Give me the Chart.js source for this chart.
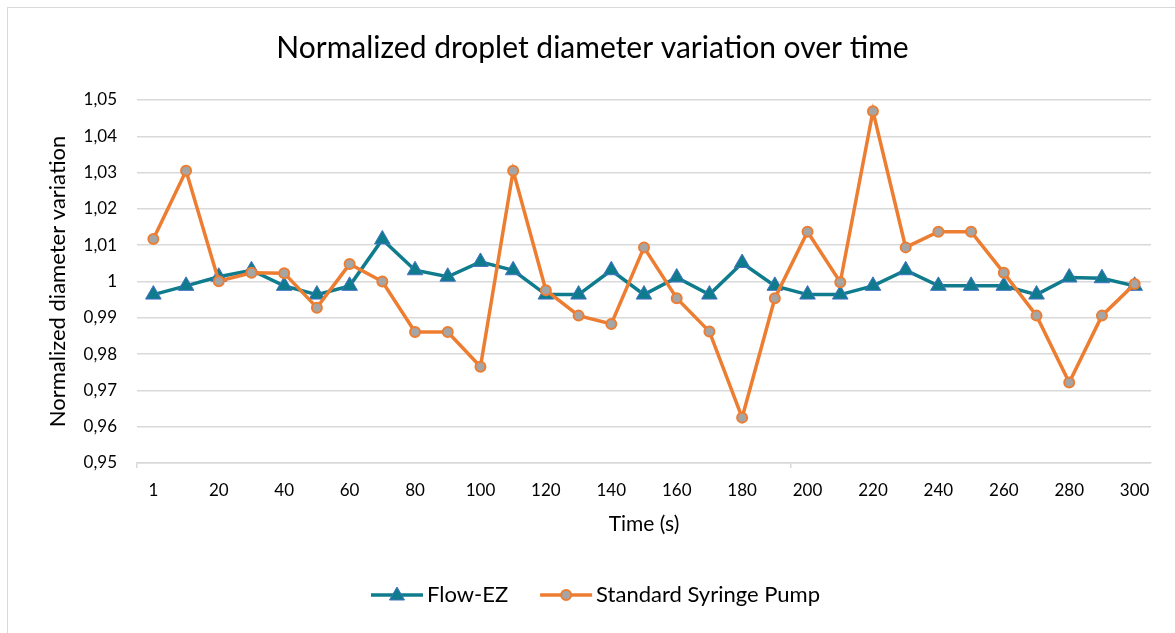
<!DOCTYPE html>
<html>
<head>
<meta charset="utf-8">
<script src="https://cdn.jsdelivr.net/npm/chart.js@4"></script>
<style>
  html, body { margin: 0; padding: 0; background: #fff; }
  #wrap { width: 1175px; height: 633px; }
</style>
</head>
<body>
<div id="wrap"><canvas id="dropChart" width="1175" height="633"></canvas></div>
<script>
// time points (s)
const times = [1, 10, 20, 30, 40, 50, 60, 70, 80, 90, 100, 110, 120, 130, 140, 150,
    160, 170, 180, 190, 200, 210, 220, 230, 240, 250, 260, 270, 280, 290, 300];

const flowEz = [0.9964, 0.9988, 1.0013, 1.0031, 0.9988, 0.9964, 0.9988, 1.0116, 1.0031, 1.0013,
    1.0054, 1.0031, 0.9964, 0.9964, 1.0031, 0.9964, 1.0011, 0.9964, 1.0051, 0.9988,
    0.9964, 0.9964, 0.9988, 1.0031, 0.9988, 0.9988, 0.9988, 0.9964, 1.0011, 1.0009, 0.9988];

const syringePump = [1.0117, 1.0305, 1.0001, 1.0024, 1.0023, 0.9928, 1.0048, 1.0000, 0.9861, 0.9861,
    0.9765, 1.0305, 0.9976, 0.9906, 0.9883, 1.0094, 0.9954, 0.9862, 0.9625, 0.9954,
    1.0137, 0.9998, 1.0469, 1.0094, 1.0137, 1.0137, 1.0024, 0.9906, 0.9722, 0.9906, 0.9993];

const seriesNames = ['Flow-EZ', 'Standard Syringe Pump'];

const teal = '#0E7C8C';
const orange = '#ED7D31';
const FONT = 'Lato';

// frame + legend drawn by hand (Excel style: line with marker in the middle)
const excelLook = {
    id: 'excelLook',
    beforeDraw(chart) {
        const ctx = chart.ctx;
        ctx.save();
        ctx.fillStyle = '#fff';
        ctx.fillRect(0, 0, chart.width, chart.height);
        ctx.strokeStyle = '#d9d9d9';
        ctx.lineWidth = 1;
        ctx.strokeRect(7.5, 7.5, chart.width + 20, chart.height + 20);
        ctx.restore();
    },
    afterDraw(chart) {
        const ctx = chart.ctx;
        ctx.save();
        ctx.font = '22px ' + FONT;
        ctx.textBaseline = 'middle';
        const segW = 52, gapText = 4, gapItem = 32;
        const w0 = ctx.measureText(seriesNames[0]).width;
        const w1 = ctx.measureText(seriesNames[1]).width;
        const total = segW + gapText + w0 + gapItem + segW + gapText + w1;
        let x = chart.width / 2 + 8 - total / 2;
        const y = 595;

        // Flow-EZ
        ctx.strokeStyle = teal;
        ctx.lineWidth = 3.5;
        ctx.beginPath(); ctx.moveTo(x, y); ctx.lineTo(x + segW, y); ctx.stroke();
        const cx = x + segW / 2;
        ctx.fillStyle = teal;
        ctx.strokeStyle = '#4472C4';
        ctx.lineWidth = 1;
        ctx.beginPath();
        ctx.moveTo(cx, y - 8); ctx.lineTo(cx + 7.5, y + 5); ctx.lineTo(cx - 7.5, y + 5); ctx.closePath();
        ctx.fill(); ctx.stroke();
        ctx.fillStyle = '#000';
        ctx.fillText(seriesNames[0], x + segW + gapText, y);
        x += segW + gapText + w0 + gapItem;

        // Syringe pump
        ctx.strokeStyle = orange;
        ctx.lineWidth = 3.5;
        ctx.beginPath(); ctx.moveTo(x, y); ctx.lineTo(x + segW, y); ctx.stroke();
        ctx.fillStyle = '#A5A5A5';
        ctx.lineWidth = 2;
        ctx.beginPath(); ctx.arc(x + segW / 2, y, 5, 0, Math.PI * 2); ctx.fill(); ctx.stroke();
        ctx.fillStyle = '#000';
        ctx.fillText(seriesNames[1], x + segW + gapText, y);
        ctx.restore();
    }
};

const dropChart = new Chart(document.getElementById('dropChart'), {
    type: 'line',
    data: {
        labels: times,
        datasets: [{
            label: seriesNames[0],
            data: flowEz,
            borderColor: teal,
            borderWidth: 3.5,
            pointStyle: 'triangle',
            pointRadius: 9,
            pointBackgroundColor: teal,
            pointBorderColor: '#4472C4',
            pointBorderWidth: 1,
            order: 2,
        },
        {
            label: seriesNames[1],
            data: syringePump,
            borderColor: orange,
            borderWidth: 3.5,
            pointStyle: 'circle',
            pointRadius: 5,
            pointBackgroundColor: '#A5A5A5',
            pointBorderColor: orange,
            pointBorderWidth: 2,
            order: 1,
        }]
    },
    options: {
        responsive: false,
        animation: false,
        layout: {
            padding: { left: 34, right: 24, top: 0, bottom: 90 }
        },
        plugins: {
            title: {
                display: true,
                text: 'Normalized droplet diameter variation over time',
                color: '#000',
                font: { family: FONT, size: 30, weight: 'normal' },
                padding: { top: 30, bottom: 34 }
            },
            legend: { display: false },
            tooltip: { enabled: false }
        },
        scales: {
            x: {
                offset: true,
                afterFit(scale) { scale.height = 80; },
                grid: {
                    offset: true,
                    drawOnChartArea: false,
                    tickLength: 5,
                    color: (c) => (c.index === 0 || c.index === 20) ? '#d9d9d9' : 'rgba(0,0,0,0)',
                    lineWidth: 1.5
                },
                border: { color: '#d9d9d9', width: 1.5 },
                ticks: {
                    autoSkip: false,
                    maxRotation: 0,
                    padding: 12,
                    color: '#000',
                    font: { family: FONT, size: 17 },
                    callback: (v, i) => (i % 2 === 0 ? times[i] : '')
                },
                title: {
                    display: true,
                    text: 'Time (s)',
                    color: '#000',
                    font: { family: FONT, size: 21 },
                    padding: { top: 0, bottom: 6 }
                }
            },
            y: {
                min: 0.95,
                max: 1.05,
                afterFit(scale) { scale.width = 103; },
                grid: { color: '#d9d9d9', lineWidth: 1.5, drawTicks: false },
                border: { display: false },
                ticks: {
                    stepSize: 0.01,
                    padding: 20,
                    color: '#000',
                    font: { family: FONT, size: 17 },
                    callback: (v) => String(Math.round(v * 100) / 100).replace('.', ',')
                },
                title: {
                    display: true,
                    text: 'Normalized diameter variation',
                    color: '#000',
                    font: { family: FONT, size: 22 },
                    padding: { top: 11, bottom: 0 }
                }
            }
        }
    },
    plugins: [excelLook]
});
</script>
</body>
</html>
